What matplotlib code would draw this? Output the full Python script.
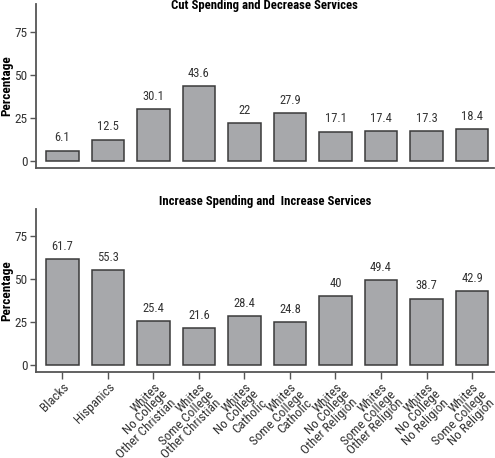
import matplotlib
matplotlib.use('Agg')
import matplotlib.pyplot as plt
from matplotlib import font_manager

# fuente estrecha si existe
available = {f.name for f in font_manager.fontManager.ttflist}
narrow = None
for name in ['Liberation Sans Narrow', 'DejaVu Sans Condensed', 'Roboto Condensed',
             'Open Sans Condensed', 'Noto Sans Condensed', 'Liberation Sans']:
    if name in available:
        narrow = name
        break
plt.rcParams['font.family'] = [narrow or 'DejaVu Sans', 'DejaVu Sans']

# Datos
groups = ['Blacks', 'Hispanics',
          'Whites\nNo College\nOther Christian',
          'Whites\nSome College\nOther Christian',
          'Whites\nNo College\nCatholic',
          'Whites\nSome College\nCatholic',
          'Whites\nNo College\nOther Religion',
          'Whites\nSome College\nOther Religion',
          'Whites\nNo College\nNo Religion',
          'Whites\nSome College\nNo Religion']
cut_decrease = [6.1, 12.5, 30.1, 43.6, 22, 27.9, 17.1, 17.4, 17.3, 18.4]
increase_increase = [61.7, 55.3, 25.4, 21.6, 28.4, 24.8, 40, 49.4, 38.7, 42.9]
yticks = [0, 25, 50, 75]

bar_color = '#a7a8ab'
edge_color = '#3a3a3a'
spine_color = '#555555'
text_color = '#333333'


def draw_panel(ax, values, show_xlabels):
    x = range(len(values))
    bars = ax.bar(x, values, width=0.72, color=bar_color,
                  edgecolor=edge_color, linewidth=1.1)
    for b, v in zip(bars, values):
        ax.annotate(f'{v:g}', (b.get_x() + b.get_width() / 2, v),
                    xytext=(0, 4.5), textcoords='offset points',
                    ha='center', va='bottom', fontsize=9, color=text_color)
    ax.set_xlim(-0.58, len(values) - 0.52)
    ax.set_ylim(-4, 91)
    ax.set_yticks(yticks)
    ax.tick_params(axis='y', labelsize=9.5, colors=text_color, length=4,
                   width=1, color=spine_color, pad=2)
    ax.set_ylabel('Percentage', fontsize=9.5, fontweight='bold', color='black')
    ax.yaxis.set_label_coords(-0.050, 0.5)
    for s in ['top', 'right']:
        ax.spines[s].set_visible(False)
    for s in ['left', 'bottom']:
        ax.spines[s].set_color(spine_color)
        ax.spines[s].set_linewidth(1.3)
    ax.set_xticks(list(x))
    if show_xlabels:
        ax.set_xticklabels(groups, rotation=45, ha='right', va='top',
                           rotation_mode='anchor', multialignment='right',
                           fontsize=9.5, color=text_color, linespacing=0.82)
        ax.tick_params(axis='x', length=5, width=1, color=spine_color, pad=1)
    else:
        ax.set_xticklabels([])
        ax.tick_params(axis='x', length=0)


fig = plt.figure(figsize=(4.95, 4.58), dpi=100)
ax1 = fig.add_axes([0.0727, 0.633, 0.925, 0.358])
ax2 = fig.add_axes([0.0727, 0.188, 0.925, 0.356])

draw_panel(ax1, cut_decrease, False)
draw_panel(ax2, increase_increase, True)

fig.text(0.535, 0.989, 'Cut Spending and Decrease Services',
         ha='center', va='center', fontsize=9.2, fontweight='bold')
fig.text(0.535, 0.561, 'Increase Spending and  Increase Services',
         ha='center', va='center', fontsize=9.2, fontweight='bold')

fig.savefig('out.png', dpi=100)
